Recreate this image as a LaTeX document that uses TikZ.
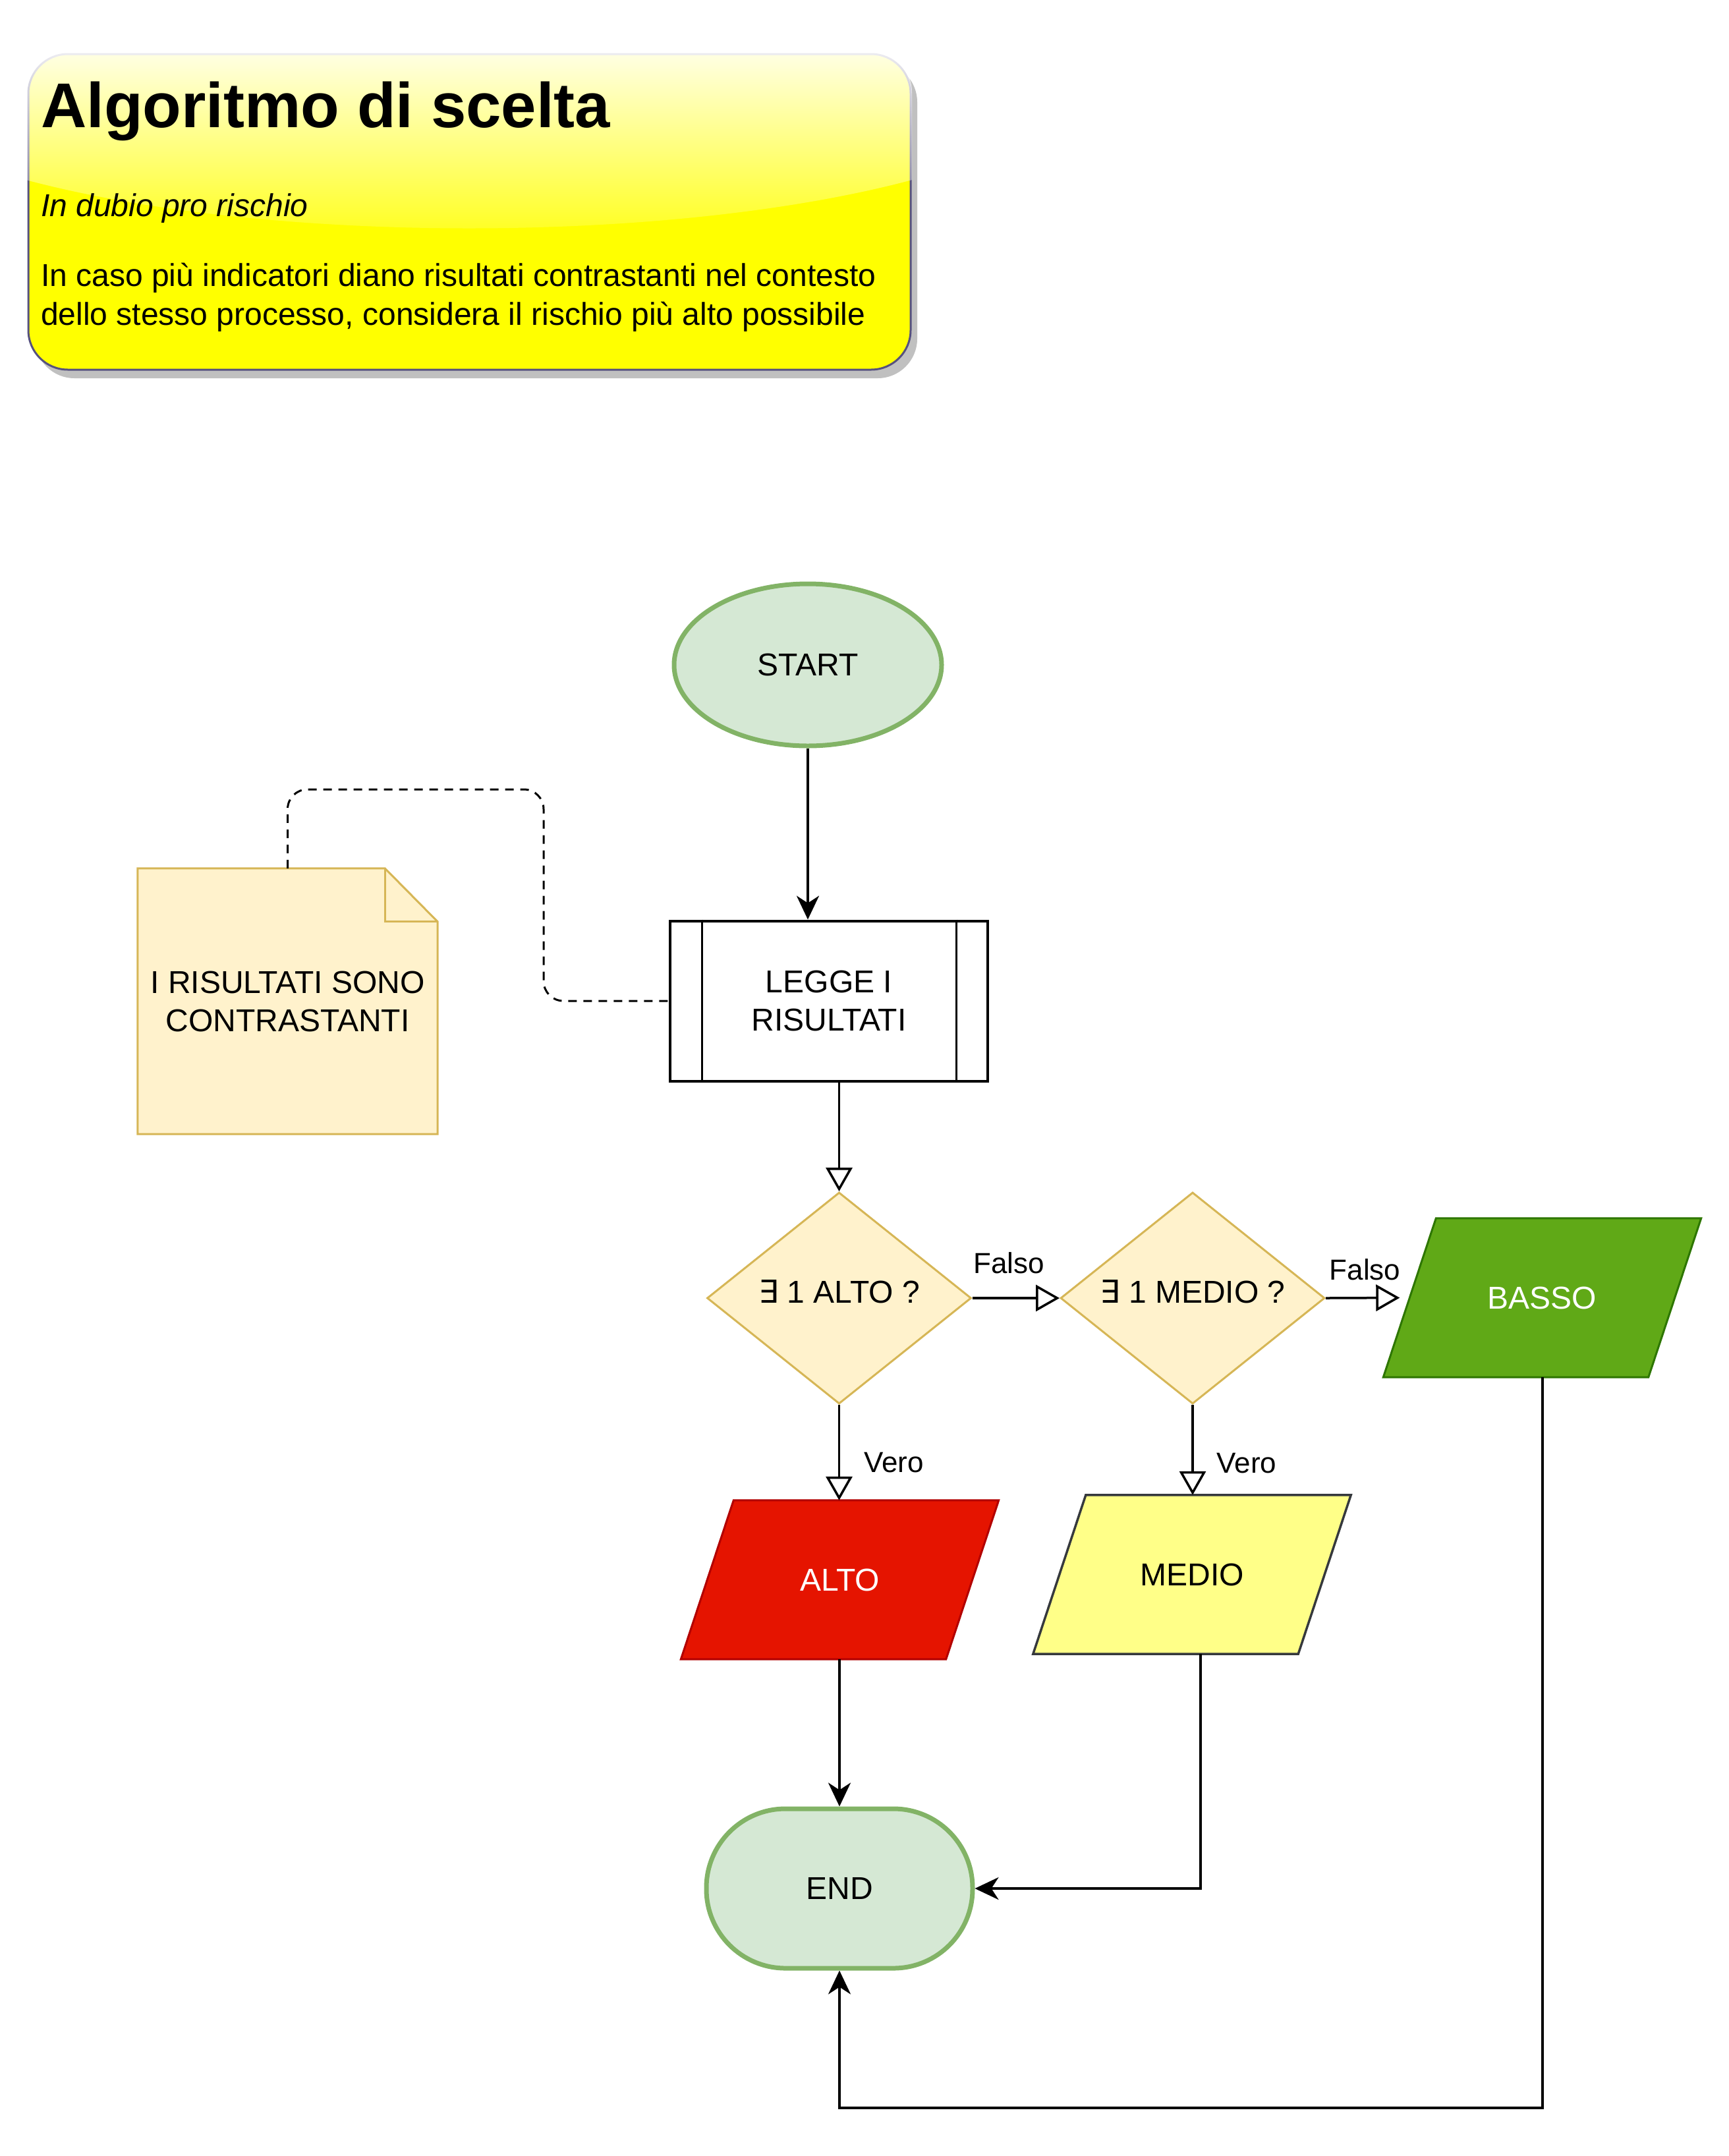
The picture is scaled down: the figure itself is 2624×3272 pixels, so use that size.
\documentclass[tikz,border=0pt]{standalone}
\usepackage{fontspec}
\setmainfont{Liberation Sans}
\newfontfamily\symfont{DejaVu Sans}
\usetikzlibrary{arrows.meta,backgrounds,fadings,shapes.geometric}
\definecolor{gfill}{HTML}{D5E8D4}
\definecolor{gline}{HTML}{82B366}
\definecolor{nfill}{HTML}{FFF2CC}
\definecolor{nline}{HTML}{D6B656}
\definecolor{altofill}{HTML}{E51400}
\definecolor{altoline}{HTML}{B20000}
\definecolor{mediofill}{HTML}{FFFF88}
\definecolor{medioline}{HTML}{36393D}
\definecolor{bassofill}{HTML}{60A917}
\definecolor{bassoline}{HTML}{2D7600}
\definecolor{titleline}{HTML}{56517E}
\definecolor{titlefill}{HTML}{FFFF00}
\definecolor{shadowc}{HTML}{C0C0C0}
\tikzfading[name=glassfade, top color=transparent!8, bottom color=transparent!92]
\tikzset{
  terminal/.style={fill=gfill, draw=gline, line width=7pt, inner sep=0pt},
  decision/.style={diamond, fill=nfill, draw=nline, line width=3pt, inner sep=0pt,
    shape aspect=1.25, minimum width=401pt, minimum height=321pt,
    text height=20pt, text depth=6pt},
  iobox/.style={inner sep=0pt, minimum width=482pt, minimum height=241pt},
  classic/.style={line width=3.5pt, -{Stealth[length=36pt, width=34pt, inset=11pt]}},
  openarr/.style={line width=3.5pt, -{Triangle[length=36pt, width=40pt, fill=white]}},
  edgelabel/.style={font=\fontsize{44}{52}\selectfont, inner sep=0pt},
  notelink/.style={line width=3pt, dash pattern=on 13pt off 10pt, rounded corners=30pt},
}
\begin{document}
\begin{tikzpicture}[x=1pt, y=-1pt, font=\fontsize{48}{58}\selectfont]
\useasboundingbox (0,0) rectangle (2624,3272);

% ---------- title box ----------
\fill[shadowc, rounded corners=60pt] (53,95) rectangle (1392,574);
\filldraw[fill=titlefill, draw=titleline, line width=3pt, rounded corners=60pt] (43,82) rectangle (1382,561);
\begin{scope}
  \clip[rounded corners=60pt] (41,80) rectangle (1384,563);
  \fill[white, path fading=glassfade] (30,70) -- (30,270) .. controls (400,372) and (1030,372) .. (1400,270) -- (1400,70) -- cycle;
\end{scope}
\node[anchor=base west, inner sep=0pt, font=\bfseries\fontsize{96}{110}\selectfont] (title) at (62,193) {Algoritmo di scelta};
\node[anchor=base west, inner sep=0pt, font=\itshape\fontsize{48}{58}\selectfont] (motto) at (62,328) {In dubio pro rischio};
\node[anchor=base west, inner sep=0pt] (body1) at (62,434) {In caso più indicatori diano risultati contrastanti nel contesto};
\node[anchor=base west, inner sep=0pt] (body2) at (62,493) {dello stesso processo, considera il rischio più alto possibile};

% ---------- flow nodes ----------
\node[terminal, ellipse, minimum width=406pt, minimum height=246pt] (start) at (1226,1009) {START};

\node[draw, line width=4pt, minimum width=482pt, minimum height=243pt, inner sep=0pt, align=center] (legge) at (1258,1519) {LEGGE I\\RISULTATI};
\draw[line width=3pt] ([xshift=50pt]legge.north west) -- ([xshift=50pt]legge.south west);
\draw[line width=3pt] ([xshift=-50pt]legge.north east) -- ([xshift=-50pt]legge.south east);

\node[minimum width=455pt, minimum height=403pt, inner sep=0pt, align=center] (note) at (436.5,1519.5) {I RISULTATI SONO\\CONTRASTANTI};
\begin{scope}[on background layer]
  \filldraw[fill=nfill, draw=nline, line width=3pt] (note.north west) -- ([xshift=-80pt]note.north east) -- ([yshift=-81pt]note.north east) -- (note.south east) -- (note.south west) -- cycle;
  \draw[nline, line width=3pt] ([xshift=-80pt]note.north east) -- ([xshift=-80pt,yshift=-81pt]note.north east) -- ([yshift=-81pt]note.north east);
\end{scope}

\node[decision] (d1) at (1273.5,1970) {{\symfont ∃} 1 ALTO ?};
\node[decision] (d2) at (1810,1970) {{\symfont ∃} 1 MEDIO ?};

\node[iobox, text=white] (basso) at (2340.5,1969.5) {BASSO};
\node[iobox, text=white] (alto) at (1274.5,2397.5) {ALTO};
\node[iobox] (medio) at (1809,2389.5) {MEDIO};
\begin{scope}[on background layer]
  \filldraw[fill=bassofill, draw=bassoline, line width=3pt] ([xshift=80pt]basso.north west) -- (basso.north east) -- ([xshift=-80pt]basso.south east) -- (basso.south west) -- cycle;
  \filldraw[fill=altofill, draw=altoline, line width=3pt] ([xshift=80pt]alto.north west) -- (alto.north east) -- ([xshift=-80pt]alto.south east) -- (alto.south west) -- cycle;
  \filldraw[fill=mediofill, draw=medioline, line width=3.5pt] ([xshift=80pt]medio.north west) -- (medio.north east) -- ([xshift=-80pt]medio.south east) -- (medio.south west) -- cycle;
\end{scope}

\node[terminal, rounded corners=120pt, minimum width=404pt, minimum height=242pt] (end) at (1274,2866) {END};

% ---------- connectors ----------
\coordinate (bend) at (825,1198);
\draw[notelink] (note.north) |- (bend) -- (bend |- legge.west) -- (legge.west);

\draw[classic] (start.south) -- (start.south |- legge.north);
\draw[openarr] (d1.north |- legge.south) -- (d1.north);

\draw[openarr] (d1.east) -- (d2.west)
  node[edgelabel, pos=0.42, anchor=base, yshift=38pt] {Falso};
\draw[openarr] (d2.east) -- ([xshift=25pt]basso.west)
  node[edgelabel, pos=0.53, anchor=base, yshift=27pt] {Falso};

\draw[openarr] (d1.south) -- (d1.south |- alto.north)
  node[edgelabel, pos=0.71, anchor=base west, xshift=36pt] {Vero};
\draw[openarr] (d2.south) -- (d2.south |- medio.north)
  node[edgelabel, pos=0.755, anchor=base west, xshift=35pt] {Vero};

\draw[classic] (end.north |- alto.south) -- (end.north);
\draw[classic] ([xshift=13pt]medio.south) |- (end.east);
\coordinate (loop) at (2341,3199);
\draw[classic] (basso.south -| loop) -- (loop) -| (end.south);
\end{tikzpicture}
\end{document}
